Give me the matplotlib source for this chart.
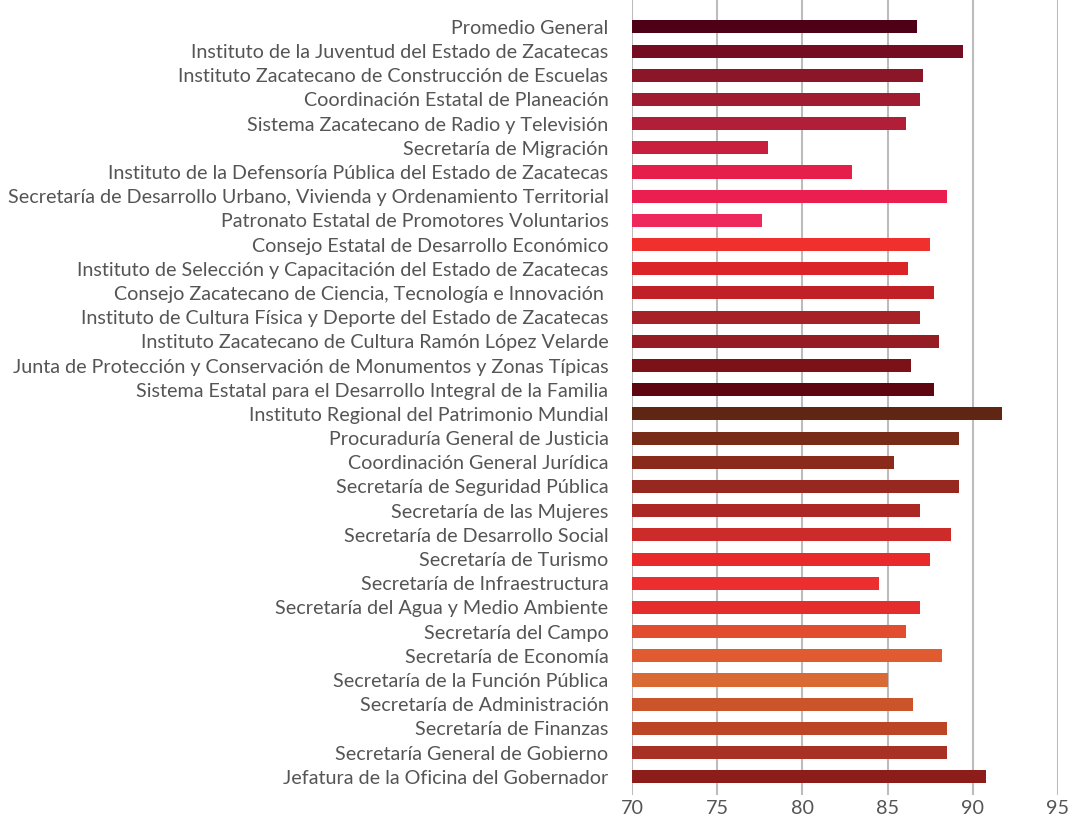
import matplotlib
matplotlib.use('Agg')
import matplotlib.pyplot as plt

# Datos del gráfico (de arriba hacia abajo)
dependencias = [
    'Promedio General',
    'Instituto de la Juventud del Estado de Zacatecas',
    'Instituto Zacatecano de Construcción de Escuelas',
    'Coordinación Estatal de Planeación',
    'Sistema Zacatecano de Radio y Televisión',
    'Secretaría de Migración',
    'Instituto de la Defensoría Pública del Estado de Zacatecas',
    'Secretaría de Desarrollo Urbano, Vivienda y Ordenamiento Territorial',
    'Patronato Estatal de Promotores Voluntarios',
    'Consejo Estatal de Desarrollo Económico',
    'Instituto de Selección y Capacitación del Estado de Zacatecas',
    'Consejo Zacatecano de Ciencia, Tecnología e Innovación ',
    'Instituto de Cultura Física y Deporte del Estado de Zacatecas',
    'Instituto Zacatecano de Cultura Ramón López Velarde',
    'Junta de Protección y Conservación de Monumentos y Zonas Típicas',
    'Sistema Estatal para el Desarrollo Integral de la Familia',
    'Instituto Regional del Patrimonio Mundial',
    'Procuraduría General de Justicia',
    'Coordinación General Jurídica',
    'Secretaría de Seguridad Pública',
    'Secretaría de las Mujeres',
    'Secretaría de Desarrollo Social',
    'Secretaría de Turismo',
    'Secretaría de Infraestructura',
    'Secretaría del Agua y Medio Ambiente',
    'Secretaría del Campo',
    'Secretaría de Economía',
    'Secretaría de la Función Pública',
    'Secretaría de Administración',
    'Secretaría de Finanzas',
    'Secretaría General de Gobierno',
    'Jefatura de la Oficina del Gobernador',
]

calificaciones = [
    86.7, 89.4, 87.1, 86.9, 86.1, 78.0, 82.9, 88.5,
    77.6, 87.5, 86.2, 87.7, 86.9, 88.0, 86.4, 87.7,
    91.7, 89.2, 85.4, 89.2, 86.9, 88.7, 87.5, 84.5,
    86.9, 86.1, 88.2, 85.0, 86.5, 88.5, 88.5, 90.8,
]

colores = [
    '#4e0016', '#750d22', '#8a1628', '#a01c31', '#b11e38', '#c81f3f', '#e51f4a', '#ea1f4f',
    '#ef285b', '#ef302d', '#da2428', '#c02126', '#a62227', '#951c22', '#7a1217', '#5e0610',
    '#5e2613', '#782b17', '#8a2a1b', '#962820', '#ac2825', '#cc2b29', '#e92a2a', '#ec2e2f',
    '#e62d2e', '#e24d30', '#e05c30', '#d96a33', '#cb552a', '#bc4526', '#a63124', '#8d1d1b',
]

ticks_x = [70, 75, 80, 85, 90, 95]

plt.rcParams['font.family'] = ['Lato', 'DejaVu Sans']

fig = plt.figure(figsize=(10.74, 8.17), dpi=100)
ax = fig.add_axes([0.5885, 0.027, 0.3966, 0.973])

posiciones = list(range(len(dependencias)))
ax.barh(posiciones, [v - 70 for v in calificaciones], left=70, height=0.54,
        color=colores, zorder=3)

ax.set_xlim(70, 95)
ax.set_ylim(31.75, -1.11)
ax.set_xticks(ticks_x)
ax.set_xticklabels([str(t) for t in ticks_x])
ax.set_yticks(posiciones)
ax.set_yticklabels(dependencias)

for t in ticks_x:
    ax.axvline(t, color='#bcbcbc', linewidth=1.5, zorder=1)

for s in ax.spines.values():
    s.set_visible(False)

ax.tick_params(axis='both', length=0, colors='#555555', labelsize=14.2)
ax.tick_params(axis='y', pad=17)
ax.tick_params(axis='x', pad=4)

fig.savefig('out.png', dpi=100, facecolor='white')
